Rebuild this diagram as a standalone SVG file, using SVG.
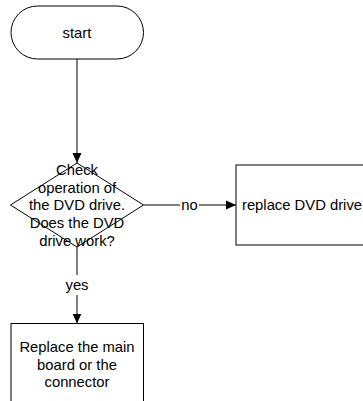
<svg xmlns="http://www.w3.org/2000/svg" width="363" height="401" viewBox="0 0 363 401">
<style>
.shape{fill:#fff;stroke:#000;stroke-width:1}
.lbl{font-family:"Liberation Sans",Arial,sans-serif;font-size:14.8px;fill:#000;text-anchor:middle}
.edge{fill:none;stroke:#000;stroke-width:1}
</style>
<defs>
<marker id="arr" markerWidth="10" markerHeight="10" refX="10" refY="5" orient="auto" markerUnits="userSpaceOnUse">
<path d="M0,0.5 L10,5 L0,9.5 Z" fill="#000"/>
</marker>
</defs>
<rect width="363" height="401" fill="#fff"/>
<g id="connectors">
<path class="edge" d="M77,59 L77,163" marker-end="url(#arr)"/>
<path class="edge" d="M143.5,205 L180,205"/>
<path class="edge" d="M199,205 L236,205" marker-end="url(#arr)"/>
<text class="lbl" x="189.5" y="210.3">no</text>
<path class="edge" d="M77,247 L77,275"/>
<path class="edge" d="M77,295 L77,323.5" marker-end="url(#arr)"/>
<text class="lbl" x="77" y="290.3">yes</text>
</g>
<g id="start">
<rect class="shape" x="11" y="6" width="132.5" height="53" rx="26.5" ry="26.5"/>
<text class="lbl" x="77" y="38">start</text>
</g>
<g id="check">
<path class="shape" d="M77,163 L143.5,205 L77,247 L10.5,205 Z"/>
<text class="lbl" x="77"><tspan x="77" y="175.1">Check</tspan><tspan x="77" y="192.7">operation of</tspan><tspan x="77" y="210.3">the DVD drive.</tspan><tspan x="77" y="227.9">Does the DVD</tspan><tspan x="77" y="245.5">drive work?</tspan></text>
</g>
<g id="replace-dvd">
<rect class="shape" x="236" y="165" width="132" height="80"/>
<text class="lbl" x="302" y="210.3">replace DVD drive</text>
</g>
<g id="replace-board">
<rect class="shape" x="11" y="323.5" width="132.5" height="80"/>
<text class="lbl"><tspan x="77" y="352.2">Replace the main</tspan><tspan x="77" y="369.8">board or the</tspan><tspan x="77" y="387.4">connector</tspan></text>
</g>
</svg>
